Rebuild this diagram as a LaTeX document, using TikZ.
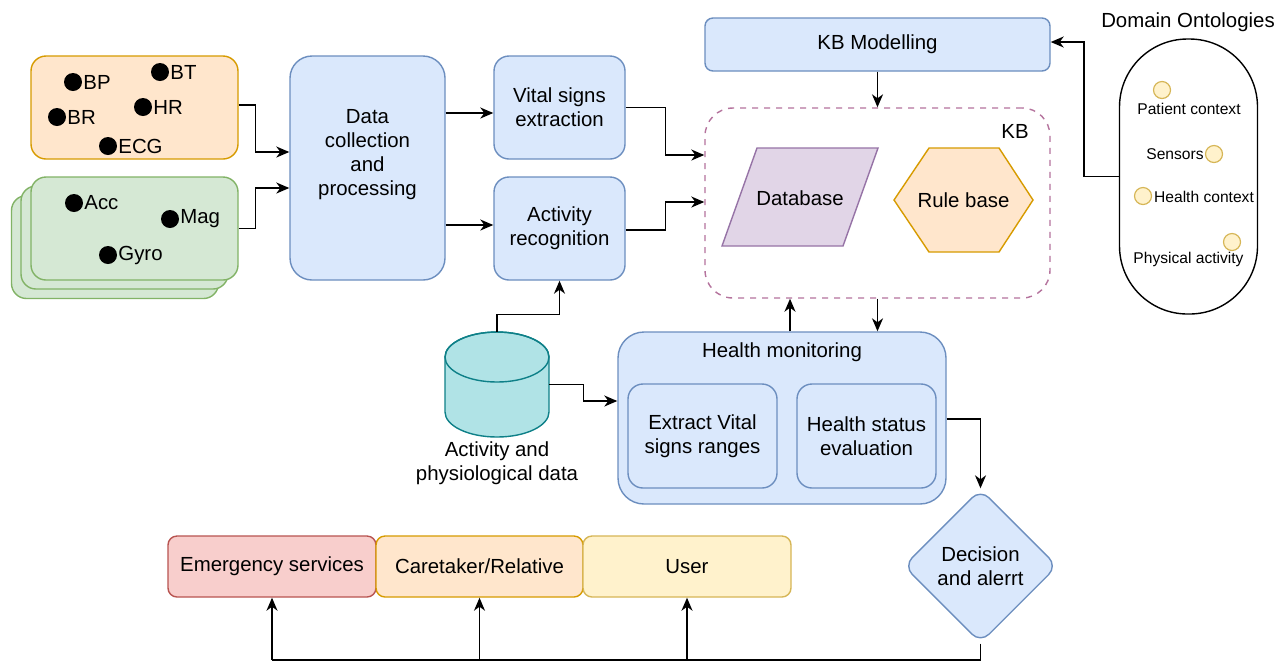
\documentclass[tikz,border=0pt]{standalone}
\usepackage{fontspec}
\setmainfont{Liberation Sans}
\usetikzlibrary{arrows.meta,calc,shapes.geometric}
\definecolor{bluefill}{HTML}{DAE8FC}
\definecolor{bluedraw}{HTML}{6C8EBF}
\definecolor{orgfill}{HTML}{FFE6CC}
\definecolor{orgdraw}{HTML}{D79B00}
\definecolor{grnfill}{HTML}{D5E8D4}
\definecolor{grndraw}{HTML}{82B366}
\definecolor{redfill}{HTML}{F8CECC}
\definecolor{reddraw}{HTML}{B85450}
\definecolor{yelfill}{HTML}{FFF2CC}
\definecolor{yeldraw}{HTML}{D6B656}
\definecolor{purfill}{HTML}{E1D5E7}
\definecolor{purdraw}{HTML}{9673A6}
\definecolor{tealfill}{HTML}{B0E3E6}
\definecolor{tealdraw}{HTML}{0E8088}
\definecolor{kbdash}{HTML}{B5739D}

\begin{document}
\begin{tikzpicture}[x=0.5pt,y=-0.5pt,
  every node/.style={font=\fontsize{10.2}{12}\selectfont, align=center},
  blk/.style={draw=bluedraw, fill=bluefill, line width=0.7pt,
              rounded corners=7.5pt, inner sep=2pt},
  gbox/.style={draw=grndraw, fill=grnfill, line width=0.7pt, rounded corners=7.5pt,
               minimum width=103.5pt, minimum height=51.5pt},
  tag/.style={draw=#1draw, fill=#1fill, line width=0.7pt, rounded corners=4.5pt,
              minimum width=103.5pt, minimum height=30.5pt},
  arr/.style={-{Stealth[length=6.5pt,width=5.5pt,inset=2pt]}, line width=0.75pt},
  sdot/.style={circle, fill=black, inner sep=0pt, minimum size=9pt},
  lbl/.style={inner sep=0.3pt},
  odot/.style={circle, draw=yeldraw, fill=yelfill, line width=0.6pt,
               inner sep=0pt, minimum size=8.5pt},
  small/.style={font=\fontsize{7.8}{9}\selectfont}]
  \useasboundingbox[fill=white] (0,0) rectangle (1285,661);

  % sensors
  \node[draw=orgdraw, fill=orgfill, line width=0.7pt, rounded corners=7.5pt,
        minimum width=103.5pt, minimum height=51.5pt] (sens) at (134.5,107.5) {};
  \node[sdot, label={[lbl]east:BP}] (bp) at (73,82) {};
  \node[sdot, label={[lbl]east:BT}] (bt) at (160,72) {};
  \node[sdot, label={[lbl]east:BR}] (br) at (57,117) {};
  \node[sdot, label={[lbl]east:HR}] (hr) at (143,107) {};
  \node[sdot, label={[lbl]east:ECG}] (ecg) at (108,146) {};

  \node[gbox] (acc3) at (115,247) {};
  \node[gbox] (acc2) at (124.5,237.5) {};
  \node[gbox] (acc) at (134.5,228.5) {};
  \node[sdot, label={[lbl]east:Acc}] (ac) at (74,203) {};
  \node[sdot, label={[lbl]east:Mag}] (mg) at (170,219) {};
  \node[sdot, label={[lbl]east:Gyro}] (gy) at (108,255) {};

  % processing
  \node[blk, rounded corners=11pt, minimum width=77.5pt, minimum height=112pt]
    (data) at (367.5,168) {};
  \node (datat) at (367.5,155) {Data\\collection\\and\\processing};
  \node[blk, minimum width=65.5pt, minimum height=51.5pt]
    (vital) at (559.5,107.5) {Vital signs\\extraction};
  \node[blk, minimum width=65.5pt, minimum height=51.5pt]
    (activ) at (559.5,228.5) {Activity\\recognition};

  % knowledge base
  \node[blk, rounded corners=4pt, minimum width=172.5pt, minimum height=26.5pt]
    (kbm) at (877.5,44.5) {KB Modelling};
  \node[draw=kbdash, dashed, line width=0.7pt, rounded corners=14pt,
        minimum width=172.5pt, minimum height=95pt] (kb) at (877.5,203) {};
  \node (kbt) at (1015,131) {KB};
  \draw[draw=purdraw, fill=purfill, line width=0.7pt]
    (722,246) -- (757,148) -- (878,148) -- (843,246) -- cycle;
  \node (db) at (800,198) {Database};
  \draw[draw=orgdraw, fill=orgfill, line width=0.7pt]
    (894,200) -- (929,148) -- (999,148) -- (1033,200) -- (999,252) -- (929,252) -- cycle;
  \node (rb) at (963.5,200) {Rule base};

  % ontologies
  \node (ontot) at (1188,22) {Domain Ontologies};
  \node[draw, line width=0.7pt, rounded corners=34pt, minimum width=69pt,
        minimum height=137.5pt] (onto) at (1188.5,176.5) {};
  \node[odot] (oc1) at (1162,90) {};
  \node[small] (ot1) at (1189,109) {Patient context};
  \node[odot] (oc2) at (1214,154) {};
  \node[small] (ot2) at (1175,154) {Sensors};
  \node[odot] (oc3) at (1143,196) {};
  \node[small] (ot3) at (1204,197) {Health context};
  \node[odot] (oc4) at (1232,242) {};
  \node[small] (ot4) at (1188.5,259) {Physical activity};

  % data store
  \draw[draw=tealdraw, fill=tealfill, line width=0.7pt]
    (445,357) -- (445,412) arc[start angle=180, end angle=360, x radius=26pt, y radius=12.5pt]
    -- (549,357) arc[start angle=0, end angle=180, x radius=26pt, y radius=12.5pt];
  \draw[draw=tealdraw, line width=0.7pt]
    (497,357) ellipse[x radius=26pt, y radius=12.5pt];
  \node[minimum width=52pt, minimum height=52.5pt] (cyl) at (497,384.5) {};
  \node (cylt) at (497,463) {Activity and\\physiological data};

  % monitoring
  \node[blk, rounded corners=13pt, minimum width=164pt, minimum height=86pt]
    (hm) at (782,418) {};
  \node (hmt) at (782,352) {Health monitoring};
  \node[blk, minimum width=74.5pt, minimum height=52pt]
    (ext) at (702.5,436) {Extract Vital\\signs ranges};
  \node[blk, minimum width=69.5pt, minimum height=52pt]
    (hse) at (866.5,436) {Health status\\evaluation};
  \node[diamond, draw=bluedraw, fill=bluefill, line width=0.7pt, rounded corners=6pt,
        inner sep=0pt, minimum size=77pt] (dec) at (980.5,566) {Decision\\and alerrt};

  % receivers
  \node[tag=red, minimum width=104pt] (em) at (272,566.5) {Emergency services};
  \node[tag=org] (ct) at (479.5,566.5) {Caretaker/Relative};
  \node[tag=yel, minimum width=104pt] (us) at (687,566.5) {User};

  % connectors
  \draw[arr] (sens.east |- 0,105) -- ++(17,0) |- ($(data.west)+(0,-16)$);
  \draw[arr] (acc.east) -- ++(17,0) |- ($(data.west)+(0,20)$);
  \draw[arr] (data.east |- 0,113) -- (vital.west |- 0,113);
  \draw[arr] (data.east |- 0,225) -- (activ.west |- 0,225);
  \draw[arr] (vital.east) -- ++(40,0) |- (kb.west |- 0,155);
  \draw[arr] (activ.east |- 0,230) -- ++(40,0) |- (kb.west |- 0,202);
  \draw[arr] (kbm.south) -- (kb.north);
  \draw[arr] (onto.west) -- ++(-35,0) |- (kbm.east |- 0,42);
  \draw[arr] (kb.south) -- (kb.south |- hm.north);
  \draw[arr] (hm.north -| 790,0) -- (kb.south -| 790,0);
  \draw[arr] (cyl.north) -- ++(0,-17) -| (activ.south);
  \draw[arr] (cyl.east) -- ++(34,0) |- (hm.west |- 0,401);
  \draw[arr] (hm.east |- 0,419) -| (dec.north);
  \draw[line width=0.75pt] (dec.south) -- (dec.south |- 0,660) -- (em.south |- 0,660);
  \foreach \n in {em,ct,us}
    \draw[arr] (\n.south |- 0,660) -- (\n.south);
\end{tikzpicture}
\end{document}
